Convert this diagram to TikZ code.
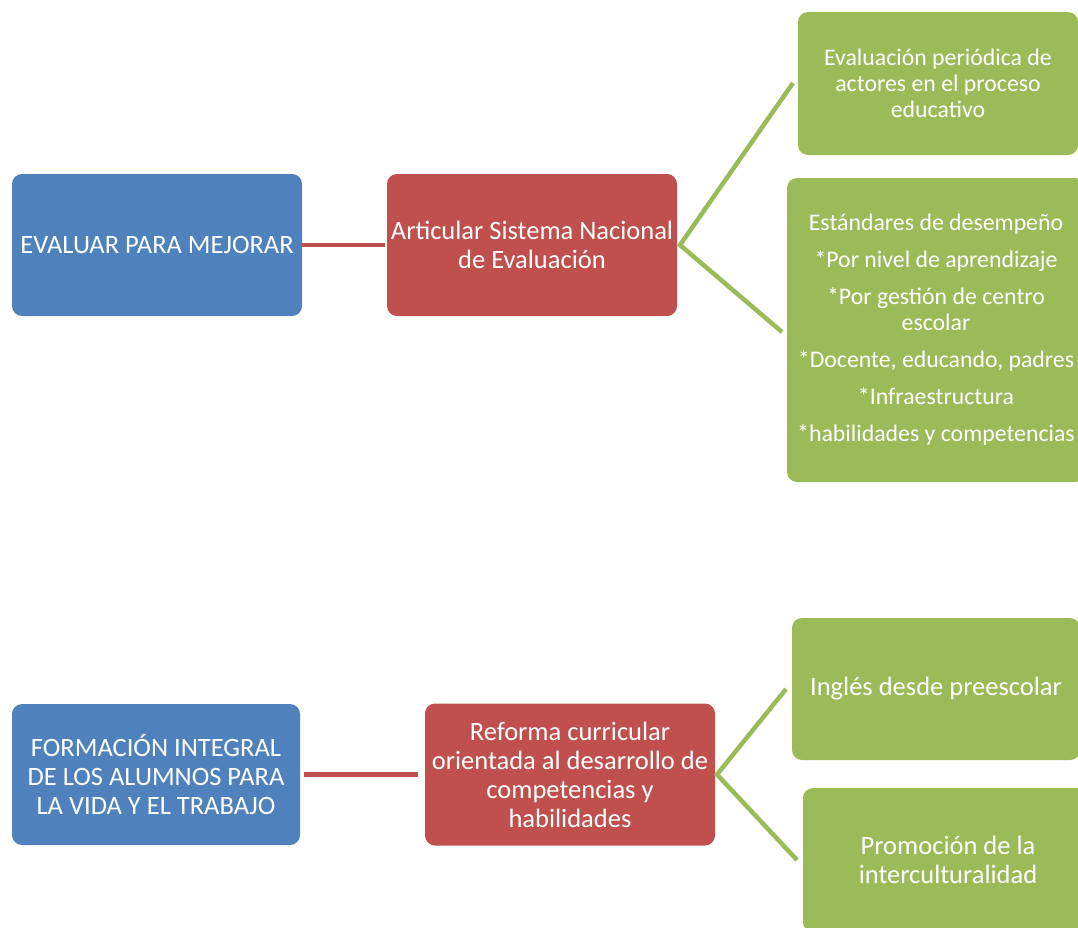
\documentclass[tikz,border=0pt]{standalone}
\usepackage{fontspec}
\setmainfont{Carlito}
\definecolor{azul}{HTML}{4F81BD}
\definecolor{rojo}{HTML}{C0504D}
\definecolor{verde}{HTML}{9BBB59}
\begin{document}
\begin{tikzpicture}[x=1pt, y=-1pt,
  caja/.style={rounded corners=10pt, inner sep=0pt, outer sep=0pt, text=white, align=center},
  grande/.style={font=\fontsize{26.5}{29}\selectfont},
  chica/.style={font=\fontsize{23.8}{26}\selectfont},
  azulbox/.style={caja, grande, fill=azul, minimum width=290pt, minimum height=142pt},
  rojobox/.style={caja, grande, fill=rojo, minimum width=290pt, minimum height=142pt},
  verdebox/.style={caja, fill=verde},
  rojoline/.style={draw=rojo, line width=4.3pt},
  verdeline/.style={draw=verde, line width=4.5pt, line join=miter}]
\useasboundingbox (0,0) rectangle (1078,927);
\clip (0,0) rectangle (1078,927);

\node[azulbox] (evaluar) at (157,245) {EVALUAR PARA MEJORAR};
\node[rojobox] (articular) at (532,245) {Articular Sistema Nacional\\de Evaluación};
\node[verdebox, chica, minimum width=280pt, minimum height=143pt] (periodica) at (938,83.5)
  {Evaluación periódica de\\actores en el proceso\\educativo};
\node[verdebox, chica, minimum width=298pt, minimum height=304pt] (estandares) at (936,330)
  {Estándares de desempeño\\[11pt]*Por nivel de aprendizaje\\[11pt]*Por gestión de centro\\escolar\\[11pt]*Docente, educando, padres\\[11pt]*Infraestructura\\[11pt]*habilidades y competencias};

\node[azulbox, minimum width=288pt, minimum height=141pt] (formacion) at (156,774.5)
  {FORMACIÓN INTEGRAL\\DE LOS ALUMNOS PARA\\LA VIDA Y EL TRABAJO};
\node[rojobox] (reforma) at (570,774.5)
  {Reforma curricular\\orientada al desarrollo de\\competencias y\\habilidades};
\node[verdebox, grande, minimum width=288pt, minimum height=142pt] (ingles) at (936,689)
  {Inglés desde preescolar};
\node[verdebox, grande, minimum width=290pt, minimum height=144pt] (promocion) at (948,860)
  {Promoción de la\\interculturalidad};

\draw[rojoline, shorten >=2pt] (evaluar) -- (articular);
\draw[rojoline, shorten <=4pt, shorten >=7pt] (formacion) -- (reforma);

\coordinate (j1) at ([xshift=3pt]articular.east);
\coordinate (p1) at (793,83);
\coordinate (p2) at (782,332);
\draw[verdeline] (p1) -- (j1) -- (p2);

\coordinate (j2) at ([xshift=2pt]reforma.east);
\coordinate (q1) at (786,689);
\coordinate (q2) at (797,860);
\draw[verdeline] (q1) -- (j2) -- (q2);
\end{tikzpicture}
\end{document}
